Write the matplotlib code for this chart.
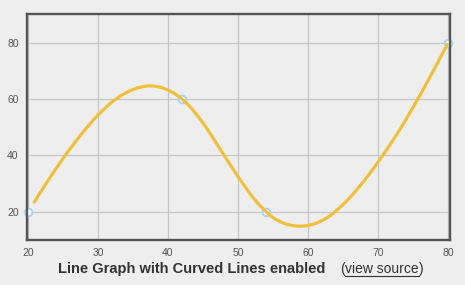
import matplotlib
matplotlib.use('Agg')
import matplotlib.pyplot as plt
from matplotlib.path import Path
from matplotlib.patches import PathPatch

# data points shown as markers
point_x = [20, 42, 54, 80]
point_y = [20, 60, 20, 80]

# curved line
curve_x = [20.8, 22.5, 25, 27.5, 30, 32.5, 35, 37.5, 40, 42.5, 45, 47.5, 50,
           52.5, 55, 57.5, 60, 62.5, 65, 67.5, 70, 72.5, 75, 77.5, 80]
curve_y = [23.0, 29.7, 38.9, 47.2, 54.4, 60.0, 63.5, 64.8, 63.3, 59.0, 51.6, 42.1, 32.5,
           24.0, 17.9, 15.2, 15.1, 17.5, 22.5, 29.4, 37.6, 46.8, 57.1, 68.3, 80.0]

x_ticks = [20, 30, 40, 50, 60, 70, 80]
y_ticks = [20, 40, 60, 80]

plt.rcParams['font.family'] = ['Liberation Sans', 'DejaVu Sans']

W, H = 465, 285
fig = plt.figure(figsize=(W / 100, H / 100), dpi=100)
fig.patch.set_facecolor('#eeeeee')

# plot area in pixels
left, right, top, bottom = 27, 450, 14, 240
ax = fig.add_axes([left / W, 1 - bottom / H, (right - left) / W, (bottom - top) / H])
ax.set_facecolor('#eeeeee')

ax.set_xlim(19.86, 80.29)
ax.set_ylim(9.9, 90.4)
ax.set_xticks(x_ticks)
ax.set_yticks(y_ticks)
ax.grid(True, color='#c6c6c6', linewidth=0.9)
ax.set_axisbelow(True)
ax.tick_params(length=0, labelsize=7.5, colors='#555555', pad=6)
for sp in ax.spines.values():
    sp.set_color('#555555')
    sp.set_linewidth(1.7)

# smooth curve through the read points (catmull-rom as cubic beziers)
pts = list(zip(curve_x, curve_y))
n = len(pts)
verts = [pts[0]]
codes = [Path.MOVETO]
for i in range(n - 1):
    p0 = pts[max(i - 1, 0)]
    p1 = pts[i]
    p2 = pts[i + 1]
    p3 = pts[min(i + 2, n - 1)]
    c1 = (p1[0] + (p2[0] - p0[0]) / 6, p1[1] + (p2[1] - p0[1]) / 6)
    c2 = (p2[0] - (p3[0] - p1[0]) / 6, p2[1] - (p3[1] - p1[1]) / 6)
    verts += [c1, c2, p2]
    codes += [Path.CURVE4] * 3
ax.add_patch(PathPatch(Path(verts, codes), facecolor='none', edgecolor='#f0c03c',
                       linewidth=2.3, capstyle='butt', zorder=3))

ax.plot(point_x, point_y, 'o', markersize=5.5, markerfacecolor='white',
        markeredgecolor='#a8d4f5', markeredgewidth=1.5, zorder=2, clip_on=False)

ty = 1 - 269 / H
fig.text(192 / W, ty, 'Line Graph with Curved Lines enabled', ha='center', va='center',
         fontsize=10.5, fontweight='bold', color='#333333')
fig.text(340 / W, ty, '(', ha='left', va='center', fontsize=10, color='#333333')
fig.text(424 / W, ty, ')', ha='right', va='center', fontsize=10, color='#333333')
fig.text(382 / W, ty, 'view source', ha='center', va='center', fontsize=10,
         color='#333333')
fig.add_artist(plt.Line2D([345 / W, 419 / W], [1 - 276 / H, 1 - 276 / H], color='#333333',
                          linewidth=0.8))

fig.savefig('out.png', dpi=100, facecolor=fig.get_facecolor())
